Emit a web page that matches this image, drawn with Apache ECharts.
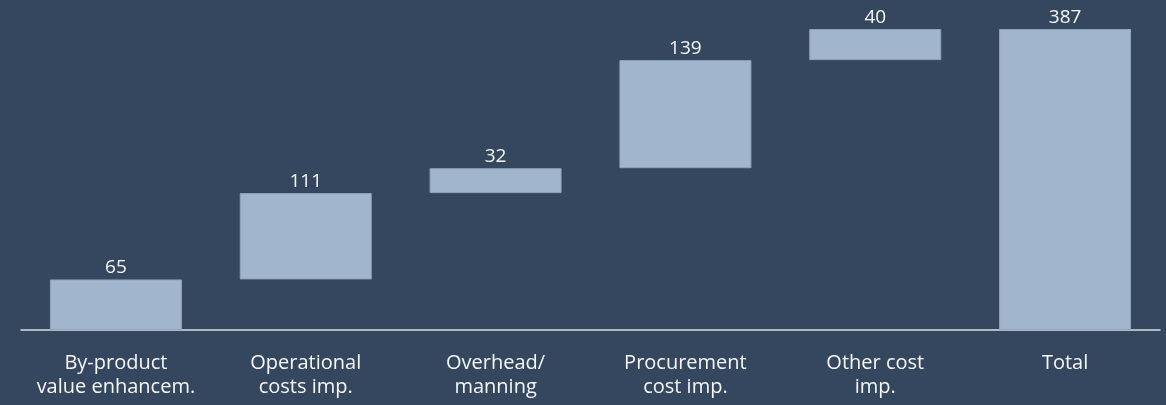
<!DOCTYPE html>
<html>
<head>
<meta charset="utf-8">
<script src="https://cdn.jsdelivr.net/npm/echarts@6/dist/echarts.min.js"></script>
<style>
  html, body { margin: 0; padding: 0; background: #34475f; }
  #chart { width: 1166px; height: 405px; }
</style>
</head>
<body>
<div id="chart"></div>
<script>
// Savings bridge: step contributions followed by the total
const categories = [
  'By-product\nvalue enhancem.',
  'Operational\ncosts imp.',
  'Overhead/\nmanning',
  'Procurement\ncost imp.',
  'Other cost\nimp.',
  'Total'
];
const steps = [65, 111, 32, 139, 40];
const total = 387;

// Floating offsets: each step starts where the previous one ended
const offsets = [];
let running = 0;
steps.forEach(v => { offsets.push(running); running += v; });
offsets.push(0);
const values = steps.concat([total]);

const chart = echarts.init(document.getElementById('chart'));
const fontFamily = '"Open Sans", "Liberation Sans", sans-serif';

chart.setOption({
  backgroundColor: '#34475f',
  animation: false,
  grid: { left: 21, right: 6, top: 29, bottom: 75, containLabel: false },
  xAxis: {
    type: 'category',
    data: categories,
    axisLine: { show: true, lineStyle: { color: '#d9dee6', width: 1.5 } },
    axisTick: { show: false },
    axisLabel: {
      color: '#f5f6f8',
      fontSize: 20,
      fontFamily: fontFamily,
      lineHeight: 24,
      margin: 21,
      interval: 0
    }
  },
  yAxis: {
    type: 'value',
    min: 0,
    max: 387,
    show: false,
    splitLine: { show: false }
  },
  series: [
    {
      name: 'offset',
      type: 'bar',
      stack: 'bridge',
      data: offsets,
      barWidth: 132,
      itemStyle: { color: 'transparent' },
      silent: true
    },
    {
      name: 'value',
      type: 'bar',
      stack: 'bridge',
      data: values,
      barWidth: 132,
      itemStyle: { color: '#a1b5cc', borderColor: '#8ea2ba', borderWidth: 1 },
      label: {
        show: true,
        position: 'top',
        distance: 2,
        color: '#f5f6f8',
        fontSize: 19,
        fontFamily: fontFamily
      }
    }
  ]
});
</script>
</body>
</html>
